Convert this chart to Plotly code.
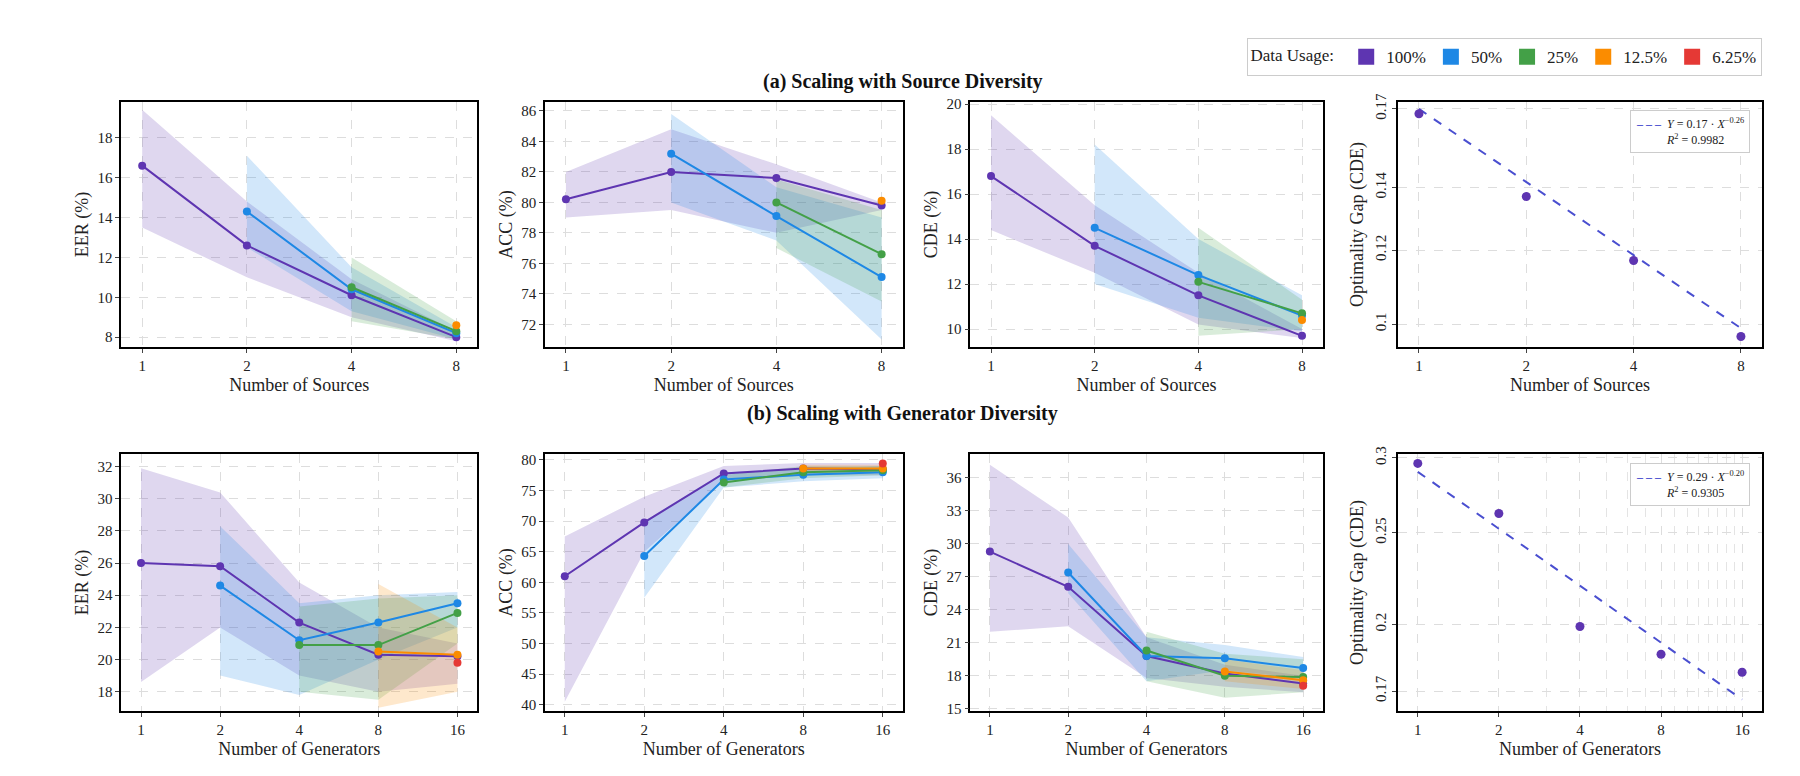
import math
import plotly.graph_objects as go

# ---- data -------------------------------------------------------------
usage = ["100%", "50%", "25%", "12.5%", "6.25%"]
colors = ["#5E35B1", "#1E88E5", "#43A047", "#FB8C00", "#E53935"]

src_x = [1, 2, 4, 8]
gen_x = [1, 2, 4, 8, 16]

# each series: (usage index, x, mean, low, high)
src_eer = [
    (0, [1, 2, 4, 8], [16.6, 12.6, 10.1, 8.0], [13.5, 11.0, 9.0, 7.8], [19.4, 14.8, 10.9, 8.3]),
    (1, [2, 4, 8], [14.3, 10.4, 8.2], [12.5, 9.3, 7.9], [17.1, 11.5, 8.5]),
    (2, [4, 8], [10.5, 8.3], [8.8, 7.9], [12.0, 8.8]),
    (3, [8], [8.6], [8.6], [8.6]),
]
src_acc = [
    (0, [1, 2, 4, 8], [80.2, 82.0, 81.6, 79.8], [79.0, 79.5, 78.0, 79.5], [82.0, 84.8, 82.5, 80.0]),
    (1, [2, 4, 8], [83.2, 79.1, 75.1], [80.0, 77.5, 71.0], [85.8, 81.0, 79.0]),
    (2, [4, 8], [80.0, 76.6], [77.0, 73.5], [81.5, 79.5]),
    (3, [8], [80.1], [80.1], [80.1]),
]
src_cde = [
    (0, [1, 2, 4, 8], [16.8, 13.7, 11.5, 9.7], [14.4, 12.5, 10.2, 9.6], [19.5, 15.5, 12.5, 10.0]),
    (1, [2, 4, 8], [14.5, 12.4, 10.6], [12.0, 10.5, 9.9], [18.2, 14.0, 11.5]),
    (2, [4, 8], [12.1, 10.7], [9.7, 10.0], [14.5, 11.3]),
    (3, [8], [10.4], [10.4], [10.4]),
]
gen_eer = [
    (0, [1, 2, 4, 8, 16], [26.0, 25.8, 22.3, 20.3, 20.2], [18.6, 22.0, 19.0, 18.0, 18.5], [31.9, 30.4, 24.8, 22.0, 21.0]),
    (1, [2, 4, 8, 16], [24.6, 21.2, 22.3, 23.5], [19.0, 17.8, 20.0, 22.0], [28.3, 23.5, 24.0, 24.2]),
    (2, [4, 8, 16], [20.9, 20.9, 22.9], [18.0, 17.5, 21.0], [23.3, 23.8, 24.0]),
    (3, [8, 16], [20.5, 20.3], [17.0, 18.0], [24.7, 22.0]),
    (4, [16], [19.8], [19.8], [19.8]),
]
gen_acc = [
    (0, [1, 2, 4, 8, 16], [61.0, 69.8, 77.8, 78.6, 78.5], [40.5, 65.0, 76.5, 77.5, 77.5], [67.5, 74.0, 79.0, 79.5, 79.5]),
    (1, [2, 4, 8, 16], [64.3, 76.8, 77.6, 78.0], [57.5, 75.5, 76.5, 77.0], [70.0, 78.0, 78.5, 79.0]),
    (2, [4, 8, 16], [76.3, 78.0, 78.3], [75.5, 77.0, 77.5], [77.5, 79.0, 79.0]),
    (3, [8, 16], [78.6, 78.6], [78.0, 78.0], [79.2, 79.2]),
    (4, [16], [79.4], [79.4], [79.4]),
]
gen_cde = [
    (0, [1, 2, 4, 8, 16], [29.3, 26.1, 19.8, 18.2, 17.3], [22.0, 22.5, 17.8, 17.0, 16.5], [37.2, 32.4, 21.5, 19.0, 18.0]),
    (1, [2, 4, 8, 16], [27.4, 19.8, 19.6, 18.7], [25.5, 17.5, 18.5, 17.8], [30.0, 21.5, 20.8, 19.7]),
    (2, [4, 8, 16], [20.3, 18.0, 17.9], [17.5, 16.0, 16.5], [22.0, 20.0, 19.5]),
    (3, [8, 16], [18.4, 17.6], [17.5, 16.8], [19.5, 18.5]),
    (4, [16], [17.1], [17.1], [17.1]),
]
src_gap = [0.168, 0.137, 0.117, 0.097]
gen_gap = [0.296, 0.262, 0.199, 0.186, 0.178]
src_fit = (0.17, -0.26, 0.9982)
gen_fit = (0.29, -0.20, 0.9305)

FONT = "Liberation Serif"
FIT_COLOR = "#4A4FD0"

def rgba(hexc, a):
    h = hexc.lstrip("#")
    return f"rgba({int(h[0:2],16)},{int(h[2:4],16)},{int(h[4:6],16)},{a})"

fig = go.Figure()

xdom = [[0.058, 0.258], [0.296, 0.497], [0.535, 0.733], [0.775, 0.98]]
ydom = [[0.568, 0.899], [0.077, 0.424]]

def axname(r, c):
    n = r * 4 + c + 1
    return ("x" if n == 1 else f"x{n}"), ("y" if n == 1 else f"y{n}")

def add_panel(r, c, series):
    xa, ya = axname(r, c)
    for ui, xs, m, lo, hi in series:
        if len(xs) > 1:
            fig.add_trace(go.Scatter(x=xs + xs[::-1], y=hi + lo[::-1], fill="toself",
                                     fillcolor=rgba(colors[ui], 0.2), line=dict(width=0),
                                     mode="lines", showlegend=False, hoverinfo="skip",
                                     xaxis=xa, yaxis=ya))
    for ui, xs, m, lo, hi in series:
        fig.add_trace(go.Scatter(x=xs, y=m, mode="lines+markers",
                                 line=dict(color=colors[ui], width=2),
                                 marker=dict(color=colors[ui], size=8),
                                 showlegend=False, xaxis=xa, yaxis=ya))

add_panel(0, 0, src_eer)
add_panel(0, 1, src_acc)
add_panel(0, 2, src_cde)
add_panel(1, 0, gen_eer)
add_panel(1, 1, gen_acc)
add_panel(1, 2, gen_cde)

def add_gap(r, xs, gap, fit):
    xa, ya = axname(r, 3)
    a, b, r2 = fit
    fig.add_trace(go.Scatter(x=xs, y=[a * x ** b for x in xs], mode="lines",
                             line=dict(color=FIT_COLOR, width=2, dash="dash"),
                             showlegend=False, xaxis=xa, yaxis=ya))
    fig.add_trace(go.Scatter(x=xs, y=gap, mode="markers",
                             marker=dict(color=colors[0], size=9),
                             showlegend=False, xaxis=xa, yaxis=ya))
    dom = "x domain" if xa == "x" else f"{xa} domain"
    ydm = "y domain" if ya == "y" else f"{ya} domain"
    fig.add_annotation(xref=dom, yref=ydm, x=0.965, y=0.965, xanchor="right", yanchor="top",
                       text=(f"<span style='color:{FIT_COLOR}'><b>– – –</b></span>  "
                             f"<i>Y</i> = {a:.2f} · <i>X</i><sup>−{abs(b):.2f}</sup><br>"
                             f"<span style='color:white'>– – –</span>  <i>R</i><sup>2</sup> = {r2:.4f}"),
                       align="left", showarrow=False, font=dict(family=FONT, size=12, color="#222"),
                       bordercolor="#ccc", borderwidth=1, bgcolor="white", borderpad=5)

add_gap(0, src_x, src_gap, src_fit)
add_gap(1, gen_x, gen_gap, gen_fit)

# legend entries
for u, col in zip(usage, colors):
    fig.add_trace(go.Scatter(x=[None], y=[None], mode="markers", name=u,
                             marker=dict(symbol="square", size=18, color=col)))

ylabels = ["EER (%)", "ACC (%)", "CDE (%)", "Optimality Gap (CDE)"]
yranges = [
    [[7.5, 19.8], [70.5, 86.6], [9.2, 20.1], None],
    [[16.8, 32.8], [39, 81], [14.8, 38.2], None],
]
yticks = [
    [[8, 10, 12, 14, 16, 18], [72, 74, 76, 78, 80, 82, 84, 86], [10, 12, 14, 16, 18, 20], [0.1, 0.12, 0.14, 0.17]],
    [[18, 20, 22, 24, 26, 28, 30, 32], [40, 45, 50, 55, 60, 65, 70, 75, 80], [15, 18, 21, 24, 27, 30, 33, 36], [0.17, 0.2, 0.25, 0.3]],
]
gap_ranges = [[0.0945, 0.173], [0.162, 0.303]]
xlabels = ["Number of Sources", "Number of Generators"]
xtk = [src_x, gen_x]

axis_common = dict(showline=True, linecolor="black", linewidth=1.5, mirror=True,
                   gridcolor="#DDDDDD", griddash="dash", ticks="outside", ticklen=4,
                   tickfont=dict(family=FONT, size=15, color="#222"), zeroline=False)

for r in range(2):
    for c in range(4):
        n = r * 4 + c + 1
        xk = "xaxis" if n == 1 else f"xaxis{n}"
        yk = "yaxis" if n == 1 else f"yaxis{n}"
        xa, ya = axname(r, c)
        k = len(xtk[r])
        pad = 0.05 * math.log10(2) * k
        xax = dict(axis_common, domain=xdom[c], anchor=ya, type="log",
                   tickvals=xtk[r], ticktext=[str(v) for v in xtk[r]],
                   range=[-pad, math.log10(xtk[r][-1]) + pad],
                   title=dict(text=xlabels[r], font=dict(family=FONT, size=18, color="#222"), standoff=6))
        yax = dict(axis_common, domain=ydom[r], anchor=xa, tickvals=yticks[r][c],
                   title=dict(text=ylabels[c], font=dict(family=FONT, size=18, color="#222"), standoff=4))
        if c == 3:
            yax.update(type="log", range=[math.log10(v) for v in gap_ranges[r]],
                       tickangle=-90, ticktext=[f"{v:g}" for v in yticks[r][c]])
            if r == 1:
                xax.update(minor=dict(tickvals=[3, 5, 6, 7, 9, 10, 11, 12, 13, 14, 15],
                                      showgrid=True, gridcolor="#E4E4E4", ticks=""))
        else:
            yax.update(range=yranges[r][c])
        fig.layout[xk] = xax
        fig.layout[yk] = yax

fig.add_annotation(xref="paper", yref="paper", x=0.497, y=0.945, text="<b>(a) Scaling with Source Diversity</b>",
                   showarrow=False, font=dict(family=FONT, size=20, color="#111"))
fig.add_annotation(xref="paper", yref="paper", x=0.497, y=0.478, text="<b>(b) Scaling with Generator Diversity</b>",
                   showarrow=False, font=dict(family=FONT, size=20, color="#111"))

fig.update_layout(
    width=1800, height=776,
    paper_bgcolor="white", plot_bgcolor="white",
    margin=dict(l=10, r=10, t=10, b=10),
    font=dict(family=FONT, color="#222"),
    legend=dict(orientation="h", x=0.98, xanchor="right", y=0.985, yanchor="top",
                title=dict(text="Data Usage: ", font=dict(family=FONT, size=17)),
                font=dict(family=FONT, size=17), bordercolor="#CCCCCC", borderwidth=1,
                bgcolor="white", itemwidth=30),
)

fig.write_html("out.html")
